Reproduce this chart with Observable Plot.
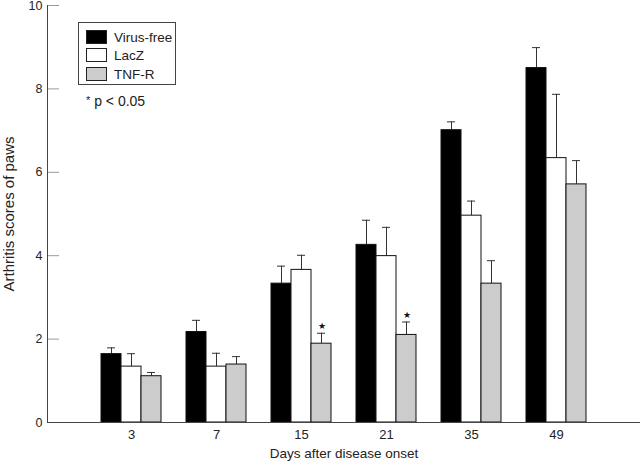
<!DOCTYPE html>
<html><head><meta charset="utf-8">
<script src="https://cdn.jsdelivr.net/npm/d3@7"></script>
<script src="https://cdn.jsdelivr.net/npm/@observablehq/plot@0.6"></script>
<style>
body{margin:0;background:#fff;}
#wrap{position:relative;width:640px;height:461px;font-family:"Liberation Sans",Arial,sans-serif;color:#222;}
#wrap svg{position:absolute;left:0;top:0;}
g[aria-label="y-axis label"] text{font-size:15px;}
g[aria-label="x-axis label"] text{font-size:13.5px;}
#legend{position:absolute;left:78px;top:22px;width:98px;height:63px;border:1px solid #444;box-sizing:border-box;background:#fff;}
.row{position:absolute;left:7px;height:15px;font-size:13.5px;line-height:15px;}
.sw{position:absolute;left:0;top:0;width:21px;height:14px;border:1px solid #222;box-sizing:border-box;}
.lab{position:absolute;left:28px;top:0;white-space:nowrap;}
#note{position:absolute;left:86px;top:93px;font-size:14px;white-space:nowrap;}
</style></head><body><div id="wrap"></div>
<script>
const days = ["3", "7", "15", "21", "35", "49"];
const seriesNames = ["Virus-free", "LacZ", "TNF-R"];
const seriesFill = ["#000000", "#ffffff", "#cccccc"];
const virusFree = [1.64, 2.17, 3.33, 4.26, 7.01, 8.50];
const virusFreeErr = [0.15, 0.28, 0.42, 0.59, 0.20, 0.49];
const lacZ = [1.34, 1.34, 3.66, 3.99, 4.96, 6.34];
const lacZErr = [0.31, 0.32, 0.35, 0.69, 0.35, 1.53];
const tnfR = [1.11, 1.39, 1.89, 2.10, 3.33, 5.71];
const tnfRErr = [0.09, 0.19, 0.25, 0.31, 0.55, 0.57];
const significant = [false, false, true, true, false, false];
const yTicks = [0, 2, 4, 6, 8, 10];

const seriesValues = [virusFree, lacZ, tnfR];
const seriesErrs = [virusFreeErr, lacZErr, tnfRErr];
const tables = seriesNames.map((name, s) =>
  days.map((day, i) => ({day, series: name, value: seriesValues[s][i], err: seriesErrs[s][i], sig: s === 2 && significant[i]}))
);

const slot = 20; // width of one bar inside a 60px group
const marks = [];
tables.forEach((rows, s) => {
  const left = s * slot, right = (2 - s) * slot;
  marks.push(Plot.ruleX(rows, {x: "day", y1: "value", y2: d => d.value + d.err, dx: (s - 1) * slot, stroke: "#333", strokeWidth: 1}));
  marks.push(Plot.tickY(rows, {x: "day", y: d => d.value + d.err, insetLeft: left + 6, insetRight: right + 6, stroke: "#333", strokeWidth: 1}));
  marks.push(Plot.barY(rows, {x: "day", y: "value", insetLeft: left, insetRight: right, fill: seriesFill[s], stroke: "#111", strokeWidth: 1}));
});
marks.push(Plot.text(tables[2].filter(d => d.sig), {x: "day", y: d => d.value + d.err, text: () => "★", dx: slot, dy: -4, lineAnchor: "bottom", fontSize: 9, fill: "#111"}));

const chart = Plot.plot({
  width: 640,
  height: 461,
  marginLeft: 47,
  marginRight: 0,
  marginTop: 5,
  marginBottom: 39,
  style: {fontFamily: '"Liberation Sans", Arial, sans-serif', fontSize: "13px", color: "#222", background: "#fff"},
  x: {domain: days, paddingInner: 25 / 85, paddingOuter: 0.635, axis: null},
  y: {domain: [0, 10], axis: null},
  marks: [
    ...marks,
    Plot.axisY({ticks: yTicks, anchor: "right", frameAnchor: "left", tickSize: 11, fill: "none", stroke: "#999", label: null}),
    Plot.axisY({ticks: yTicks, anchor: "left", tickSize: 0, tickPadding: 5, fontSize: 12.5, label: "Arthritis scores of paws", labelAnchor: "center", labelOffset: 44, labelArrow: "none"}),
    Plot.axisX({tickSize: 0, tickPadding: 7, fontSize: 13, label: "Days after disease onset", labelAnchor: "center", labelOffset: 35}),
    Plot.ruleY([0], {stroke: "#444", strokeWidth: 1}),
    Plot.frame({anchor: "left", stroke: "#444", strokeWidth: 1})
  ]
});

const wrap = document.getElementById("wrap");
wrap.appendChild(chart);

const legend = document.createElement("div");
legend.id = "legend";
seriesNames.forEach((name, s) => {
  const row = document.createElement("div");
  row.className = "row";
  row.style.top = (7 + s * 18.3) + "px";
  const sw = document.createElement("div");
  sw.className = "sw";
  sw.style.background = seriesFill[s];
  const lab = document.createElement("div");
  lab.className = "lab";
  lab.textContent = name;
  row.appendChild(sw);
  row.appendChild(lab);
  legend.appendChild(row);
});
wrap.appendChild(legend);
const note = document.createElement("div");
note.id = "note";
note.innerHTML = '<span style="font-size:11px;vertical-align:2px">*</span> p &lt; 0.05';
wrap.appendChild(note);
</script>
</body></html>
